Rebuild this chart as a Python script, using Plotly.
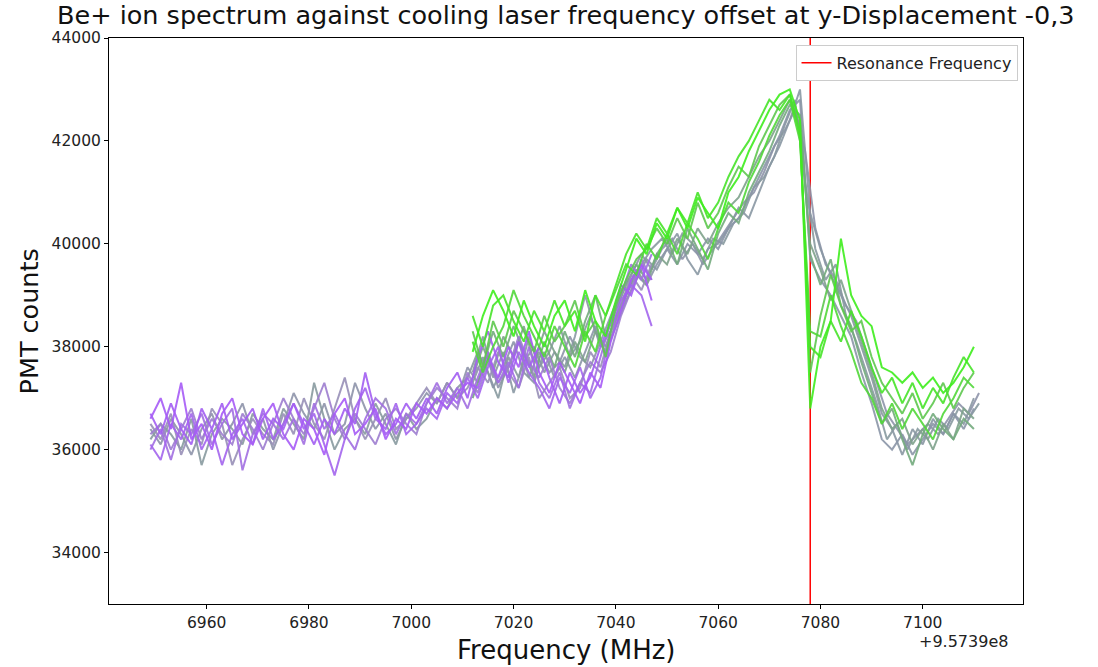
import plotly.graph_objects as go

# ---------------- data (frequency offset in MHz relative to 9.5739e8, PMT counts) ----------------
freq_left = list(range(6949, 7048, 2))      # early scans, 50 points
freq_full = list(range(6949, 7112, 2))      # full-range scans, 82 points
freq_right = list(range(7012, 7111, 2))     # late scans, 50 points
resonance_freq = 7078
y_limits = [33000, 44000]

left_p1 = [36600, 37000, 36400, 37300, 36200, 36500, 36000, 36700, 37000, 36300,
           36100, 36600, 36900, 36300, 36000, 36600, 36400, 35900, 36700, 37000,
           36300, 36500, 36800, 36200, 36600, 36400, 36900, 36700, 37000, 36800,
           37100, 37300, 37200, 37800, 37400, 38000, 37600, 38300, 37500, 37100,
           37700, 37300, 36900, 37500, 37200, 38100, 38700, 39300, 39600, 38900]
left_p2 = [36100, 35800, 36500, 36200, 36700, 36000, 36400, 35700, 36300, 36600,
           36100, 36800, 36200, 36500, 36900, 36400, 36700, 36100, 35500, 36200,
           36800, 37200, 36600, 36400, 36900, 36300, 36500, 36800, 36600, 37100,
           36900, 37400, 37000, 37600, 38000, 37300, 37900, 37500, 37200, 36800,
           37400, 37100, 37600, 37000, 37400, 38300, 38900, 39200, 39000, 38400]
left_p3 = [36300, 36500, 36000, 36400, 36800, 36200, 36600, 36300, 36100, 36700,
           36400, 36000, 36500, 37000, 36600, 36300, 36800, 37300, 36600, 36200,
           36700, 36400, 36100, 36600, 36800, 36500, 36300, 36900, 37200, 37000,
           36800, 37500, 37100, 37700, 37300, 37600, 38200, 37700, 37400, 37800,
           37200, 36900, 37300, 37700, 37500, 37900, 38600, 39100, 39700, 39300]
left_p4 = [36500, 36200, 36700, 35900, 36400, 36100, 36800, 36500, 35700, 36200,
           36600, 36300, 36100, 36700, 36300, 37000, 36500, 36200, 36800, 37400,
           36600, 36200, 36600, 37000, 36400, 36600, 36900, 37200, 36900, 37300,
           37000, 37200, 37600, 37300, 37900, 37500, 37200, 37800, 37000, 37300,
           37600, 37000, 37200, 37900, 37600, 38300, 38800, 39400, 39100, 39600]
left_p5 = [36700, 36300, 36900, 36400, 36100, 36800, 36400, 36900, 36200, 36500,
           36800, 36200, 36600, 36400, 36900, 36500, 36100, 36600, 36300, 36800,
           36500, 37500, 36700, 36300, 36500, 36900, 36600, 37000, 36700, 37200,
           37500, 37000, 37800, 38300, 37700, 37400, 38100, 37600, 38000, 37400,
           36900, 37500, 37100, 37400, 38000, 38500, 39200, 39000, 39600, 39300]
left_p6 = [36000, 36400, 35800, 36500, 36300, 36700, 36100, 36500, 36800, 35600,
           36300, 36700, 36500, 36200, 36600, 36100, 36900, 36400, 36700, 36300,
           36000, 36600, 37000, 36800, 36300, 36700, 36500, 36900, 37300, 36900,
           37200, 36800, 37400, 37900, 37300, 37700, 37200, 38000, 37300, 37000,
           37500, 36800, 37300, 37100, 37800, 38500, 39000, 39600, 39300, 39800]

full_g1 = [36400, 36100, 36600, 36300, 35900, 36400, 36700, 36200, 36500, 36900,
           36300, 36600, 36000, 36500, 37100, 36700, 36400, 36900, 36300, 36500,
           37300, 36800, 36400, 36700, 36200, 36600, 36800, 37100, 36900, 37300,
           37000, 37600, 37300, 37900, 37200, 37600, 38100, 37400, 37900, 37500,
           37700, 38200, 37800, 37600, 38100, 38600, 39100, 39400, 39800, 39500,
           39900, 40100, 39700, 40000, 39600, 39900, 40200, 40500, 40800, 41000,
           41400, 41900, 42200, 42600, 41800, 40300, 39600, 39300, 38800, 38500,
           37900, 37300, 36700, 36400, 36100, 36300, 36500, 36300, 36600, 36900,
           36700, 37100]
full_g2 = [36200, 36500, 36300, 36000, 36600, 35700, 36300, 36600, 36400, 36100,
           36700, 36400, 36200, 36800, 36500, 36200, 37300, 36600, 36000, 36400,
           36600, 36300, 36900, 36500, 36100, 36700, 36400, 36600, 37000, 36800,
           37200, 37400, 37900, 37500, 37000, 37800, 37400, 38200, 37600, 37900,
           38400, 37800, 38100, 38600, 38000, 38300, 38800, 39300, 39600, 39900,
           40100, 39800, 40200, 40000, 39700, 40100, 40000, 40400, 40600, 41100,
           41300, 41700, 42300, 42800, 41200, 39900, 39300, 39600, 38600, 38100,
           37500, 36900, 36200, 36500, 36000, 36400, 36200, 36600, 36400, 36800,
           36600, 36900]

right_r1 = [37500, 38200, 37400, 37900, 37100, 37700, 38000, 37500, 37900, 37600,
            38200, 39000, 38300, 37900, 38400, 38900, 39300, 39700, 39500, 39900,
            40200, 39700, 39400, 39900, 40000, 40300, 40700, 40500, 41000, 41500,
            41900, 42400, 43000, 40600, 39900, 39400, 39000, 38600, 38000, 37400,
            36700, 36400, 35900, 36400, 36100, 36600, 36300, 36700, 36500, 37000]
right_r6 = [37300, 37800, 37200, 37600, 38100, 37500, 37300, 37900, 37400, 37800,
            37400, 37900, 38400, 37800, 38500, 39000, 39400, 39200, 39600, 39900,
            39600, 40000, 39800, 40100, 39900, 40300, 40500, 40900, 41300, 41700,
            42100, 42600, 42800, 39700, 39300, 39000, 38600, 38200, 37500, 36900,
            36200, 36000, 36300, 35900, 36200, 36500, 36300, 36700, 36400, 36800]
right_r2 = [37000, 37600, 38300, 37800, 38400, 37900, 37400, 38100, 37600, 38300,
            37800, 38500, 39000, 38200, 38700, 39200, 39600, 39300, 39800, 40100,
            39600, 40300, 39900, 39500, 40200, 40600, 40400, 41000, 41400, 41800,
            42300, 42700, 42500, 39800, 39200, 39700, 38800, 38400, 37700, 37100,
            36500, 36800, 36200, 35700, 36300, 36700, 36400, 36200, 36600, 36400]
right_r8 = [37400, 38000, 37500, 38200, 37800, 38400, 37700, 38300, 37900, 37500,
            38100, 37700, 38300, 38000, 38600, 39000, 39500, 39200, 39800, 39600,
            40100, 39800, 40300, 40000, 40400, 40700, 40900, 41300, 41700, 42000,
            42400, 42800, 42300, 40000, 39500, 38900, 39300, 38700, 38100, 37500,
            36800, 36400, 36600, 36100, 36400, 36000, 36500, 36200, 36800, 36600]
right_r5 = [38100, 37500, 38000, 38400, 39100, 38600, 38200, 37800, 38400, 38000,
            37600, 38300, 37900, 38600, 39100, 39600, 39400, 40000, 39700, 40200,
            39800, 40400, 40100, 39700, 40300, 40800, 40600, 41200, 41600, 42100,
            42500, 42800, 42000, 38300, 38200, 39000, 38400, 37900, 37300, 37000,
            36500, 36900, 36400, 36800, 36500, 36200, 36700, 37000, 37400, 37200]
right_r3 = [38300, 37600, 38500, 38000, 38700, 38300, 37900, 38600, 38100, 38400,
            38900, 38200, 38500, 37800, 38800, 39300, 39700, 39900, 40300, 40000,
            40500, 40100, 40800, 40300, 40600, 41100, 41500, 41300, 41900, 42300,
            42700, 42900, 42200, 37500, 38600, 39400, 38800, 38300, 38500, 37800,
            37300, 37000, 36700, 37100, 36600, 36900, 37300, 36800, 37200, 37500]
right_r7 = [38600, 38000, 38800, 39000, 38500, 38100, 38700, 38300, 38900, 38400,
            38700, 38100, 39000, 38600, 39200, 39800, 40200, 39900, 40500, 40200,
            40700, 40400, 41000, 40500, 40800, 41300, 41700, 42000, 42400, 42800,
            42600, 42900, 42100, 38000, 37800, 38500, 38100, 38700, 38200, 37600,
            37100, 37400, 36900, 37300, 36800, 37200, 36900, 37400, 37800, 37500]
right_r4 = [37900, 38600, 39100, 38700, 38200, 38900, 38400, 38000, 38600, 38900,
            38300, 39100, 38500, 38200, 38900, 39500, 40100, 39800, 40400, 40100,
            40700, 40300, 40900, 40600, 40300, 41000, 41300, 41800, 42200, 42600,
            42900, 43000, 42400, 36800, 38000, 38500, 40100, 39000, 38600, 38400,
            37600, 37500, 37300, 37500, 37200, 37400, 37100, 37300, 37600, 38000]

x_ticks = [6960, 6980, 7000, 7020, 7040, 7060, 7080, 7100]
y_ticks = [34000, 36000, 38000, 40000, 42000, 44000]

# ---------------- styling (drawing order: bottom to top) ----------------
series = [
    (freq_full, full_g1, "#8e94aa"),
    (freq_full, full_g2, "#899ba0"),
    (freq_right, right_r1, "#8a98a4"),
    (freq_right, right_r6, "#8b96a8"),
    (freq_right, right_r8, "#7fa38c"),
    (freq_right, right_r2, "#74ab7e"),
    (freq_left, left_p4, "#9890b8"),
    (freq_left, left_p3, "#9e7ed0"),
    (freq_left, left_p6, "#a270e2"),
    (freq_left, left_p2, "#a466ee"),
    (freq_left, left_p5, "#a35ff2"),
    (freq_left, left_p1, "#a75cf7"),
    (freq_right, right_r3, "#5fc84f"),
    (freq_right, right_r5, "#52d83a"),
    (freq_right, right_r7, "#48e42a"),
    (freq_right, right_r4, "#3fee1e"),
]

fig = go.Figure()

fig.add_trace(go.Scatter(
    x=[resonance_freq, resonance_freq], y=y_limits, mode="lines",
    line=dict(color="#ff0000", width=1.5), name="Resonance Frequency",
    showlegend=True,
))

for xs, ys, col in series:
    fig.add_trace(go.Scatter(
        x=xs, y=ys, mode="lines", line=dict(color=col, width=2),
        opacity=0.9, showlegend=False, hoverinfo="skip",
    ))

axis_common = dict(
    showline=True, mirror=True, linecolor="#000000", linewidth=1,
    ticks="outside", ticklen=4, tickcolor="#000000", tickwidth=1,
    showgrid=False, zeroline=False, tickformat="d",
    tickfont=dict(family="DejaVu Sans", size=15.5, color="#222222"),
)

fig.update_layout(
    width=1098, height=667,
    margin=dict(l=109, r=75, t=38, b=63),
    paper_bgcolor="white", plot_bgcolor="white",
    font=dict(family="DejaVu Sans", color="#222222"),
    xaxis=dict(range=[6940.9, 7119.6], tickvals=x_ticks, **axis_common),
    yaxis=dict(range=y_limits, tickvals=y_ticks, **axis_common),
    legend=dict(
        x=0.994, y=0.988, xanchor="right", yanchor="top",
        bgcolor="white", bordercolor="#cccccc", borderwidth=1,
        font=dict(family="DejaVu Sans", size=16, color="#222222"),
    ),
    annotations=[
        dict(text="Be+ ion spectrum against cooling laser frequency offset at y-Displacement -0,3",
             xref="paper", yref="paper", x=0.5, y=1.041, xanchor="center", yanchor="middle",
             showarrow=False, font=dict(family="DejaVu Sans", size=25.5, color="#111111")),
        dict(text="PMT counts", xref="paper", yref="paper", x=-0.087, y=0.5,
             textangle=-90, xanchor="center", yanchor="middle", showarrow=False,
             font=dict(family="DejaVu Sans", size=25.5, color="#111111")),
        dict(text="Frequency (MHz)", xref="paper", yref="paper", x=0.5, y=-0.082,
             xanchor="center", yanchor="middle", showarrow=False,
             font=dict(family="DejaVu Sans", size=26, color="#111111")),
        dict(text="+9.5739e8", xref="paper", yref="paper", x=0.986, y=-0.066,
             xanchor="right", yanchor="middle", showarrow=False,
             font=dict(family="DejaVu Sans", size=16, color="#222222")),
    ],
)

fig.write_html("out.html")
